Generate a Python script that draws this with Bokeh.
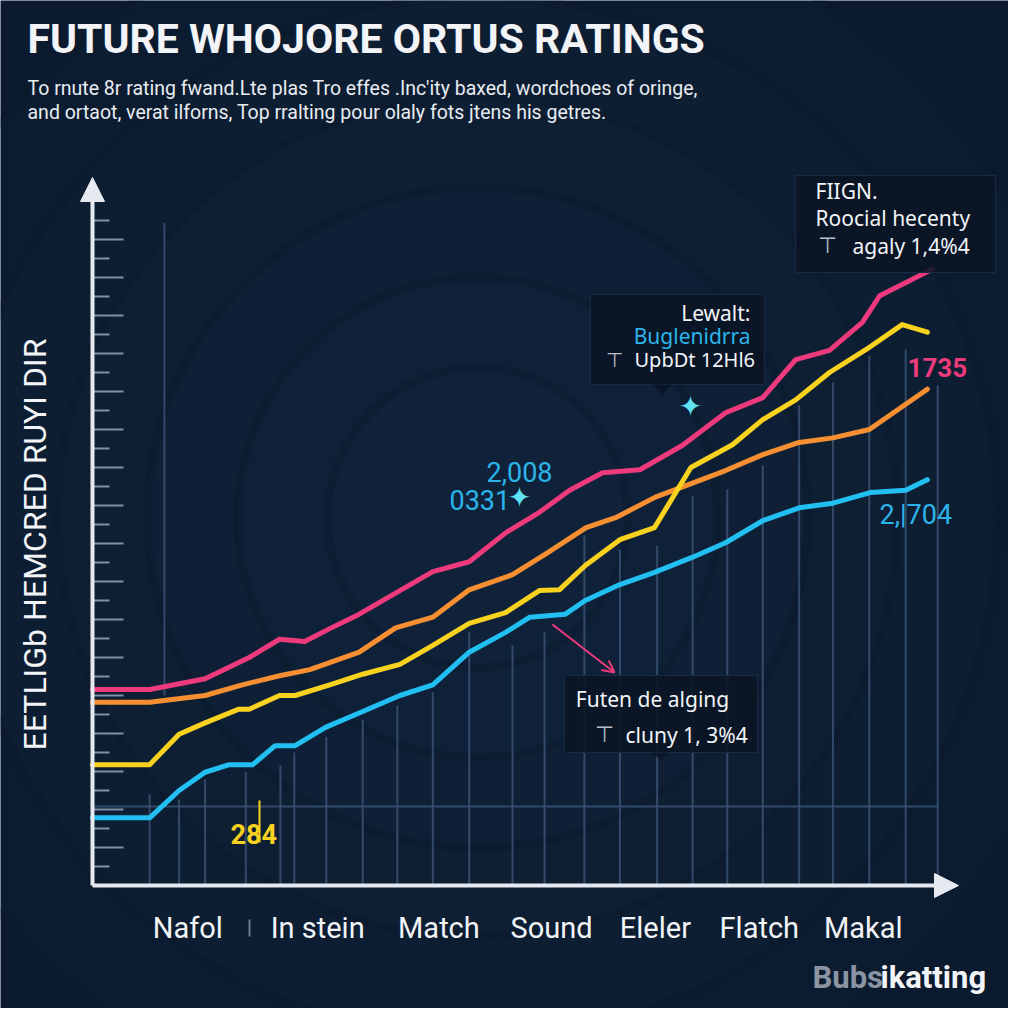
import math
from bokeh.plotting import figure
from bokeh.models import Range1d, FixedTicker, Arrow, NormalHead, OpenHead
from bokeh.core.properties import value
from bokeh.embed import file_html
from bokeh.resources import INLINE

# ---------------- data ----------------
categories = ["Nafol", "In stein", "Match", "Sound", "Eleler", "Flatch", "Makal"]
category_pos = [11, 26, 40, 53, 65, 77, 89]

pink_x = [0, 6.6, 13.0, 18.1, 21.6, 24.5, 27.4, 30.8, 35.5, 39.3, 43.5, 47.7, 51.6, 55.1, 58.9, 63.2, 68.1, 73.1, 77.4, 81.2, 85.1, 88.9, 90.9, 97.0]
pink_y = [25.8, 25.8, 27.2, 30.0, 32.4, 32.1, 33.8, 35.7, 38.8, 41.3, 42.6, 46.4, 49.1, 52.0, 54.3, 54.7, 57.9, 62.2, 64.2, 69.2, 70.4, 74.1, 77.6, 81.1]

orange_x = [0, 6.6, 13.0, 17.3, 21.6, 25.1, 30.8, 35.0, 39.3, 43.5, 48.5, 52.3, 57.0, 60.4, 65.0, 73.1, 77.4, 81.6, 85.5, 89.7, 96.4]
orange_y = [24.1, 24.1, 25.0, 26.4, 27.6, 28.4, 30.7, 33.9, 35.3, 38.9, 40.9, 43.6, 47.1, 48.4, 51.1, 54.6, 56.7, 58.3, 58.9, 60.0, 65.3]

yellow_x = [0, 6.6, 10.0, 13.0, 16.9, 18.1, 21.6, 23.4, 27.4, 31.2, 35.5, 39.3, 43.5, 47.7, 51.6, 53.9, 56.9, 60.9, 64.9, 69.1, 73.9, 77.4, 81.2, 85.1, 89.3, 93.5, 96.4]
yellow_y = [15.9, 15.9, 19.9, 21.4, 23.2, 23.2, 25.0, 25.0, 26.4, 27.8, 29.1, 31.6, 34.5, 35.9, 38.8, 38.9, 42.1, 45.5, 47.1, 55.0, 58.0, 61.3, 63.9, 67.5, 70.5, 73.8, 72.8]

blue_x = [0, 6.6, 10.0, 13.0, 15.8, 18.5, 21.1, 23.4, 26.9, 31.2, 35.5, 39.3, 43.5, 47.7, 50.5, 54.6, 56.9, 60.9, 64.9, 69.3, 73.1, 77.4, 81.6, 85.5, 89.8, 93.9, 96.4]
blue_y = [8.9, 8.9, 12.5, 14.9, 15.9, 15.9, 18.4, 18.4, 20.8, 22.9, 25.0, 26.4, 30.7, 33.3, 35.3, 35.7, 37.5, 39.6, 41.2, 43.2, 45.1, 48.0, 49.7, 50.3, 51.7, 52.0, 53.4]

# decorative drop lines (x, bottom, top)
drop_x = [6.6, 8.3, 10.0, 13.0, 17.7, 21.7, 23.3, 27.0, 31.2, 35.2, 39.3, 43.5, 48.5, 52.2, 56.8, 60.9, 65.2, 69.3, 73.3, 77.4, 81.6, 85.5, 89.7, 93.9, 97.6]
drop_y0 = [0, 25.0, 0, 0, 0, 0, 0, 0, 0, 0, 0, 0, 0, 0, 0, 0, 0, 0, 0, 0, 0, 0, 0, 0, 0]
drop_y1 = [12.0, 87.2, 11.3, 13.9, 14.9, 15.8, 17.5, 19.5, 21.8, 23.7, 25.4, 33.3, 31.6, 33.3, 46.1, 44.2, 44.7, 51.3, 52.1, 55.3, 63.2, 66.2, 69.7, 70.5, 65.8]
hline_y = 10.4

y_major = [5, 10, 15, 20, 25, 30, 35, 40, 45, 50, 55, 60, 65, 70, 75, 80, 85]
y_minor = [2.5, 7.5, 12.5, 17.5, 22.5, 27.5, 32.5, 37.5, 42.5, 47.5, 52.5, 57.5, 62.5, 67.5, 72.5, 77.5, 82.5, 87.5]

# ---------------- styling helpers ----------------
PXX = 8.66   # pixels per x unit
PXY = 7.6    # pixels per y unit
def X(px):
    return (px - 100) / PXX
def Y(py):
    return (893 - py) / PXY

BG = "#0b1a2e"
WHITE = "#f2f4f7"
PINK = "#ec3a7c"
ORANGE = "#f68f31"
YELLOW = "#f8d21f"
BLUE = "#22bff2"
LBLUE = "#2cb4ea"
COND = "Roboto"
SANS = "Noto Sans"

p = figure(width=1008, height=1008, output_backend="svg", toolbar_location=None,
           x_range=Range1d(X(8), X(1016)), y_range=Range1d(Y(1016), Y(8)),
           x_axis_location=None, min_border=0)
p.title.visible = False
p.grid.visible = False
p.outline_line_color = None
p.background_fill_color = BG
p.border_fill_color = BG

# soft concentric glow
for r in [620, 520, 420, 330, 240, 150]:
    p.circle(x=[X(485)], y=[Y(525)], radius=r, radius_units="screen",
             fill_color="#17345a", fill_alpha=0.07, line_color="#0a1627", line_alpha=0.3, line_width=8)

# y axis (ticks only, placed at x = 0)
yax = p.yaxis[0]
yax.fixed_location = 0
yax.ticker = FixedTicker(ticks=y_major, minor_ticks=y_minor)
yax.major_label_overrides = {t: "" for t in y_major}
yax.major_label_standoff = 0
yax.axis_line_color = None
yax.major_tick_in = 31
yax.major_tick_out = 0
yax.minor_tick_in = 17
yax.minor_tick_out = 0
yax.major_tick_line_color = "#7f90a8"
yax.minor_tick_line_color = "#7f90a8"
yax.major_tick_line_width = 2
yax.minor_tick_line_width = 2

# grid-like decorations
p.segment(x0=drop_x, y0=drop_y0, x1=drop_x, y1=drop_y1, line_color="#3a5273", line_width=2, line_alpha=0.85)
p.segment(x0=[0], y0=[hline_y], x1=[97.6], y1=[hline_y], line_color="#3a5273", line_width=2, line_alpha=0.85)

# axis arrows
p.add_layout(Arrow(end=NormalHead(size=24, fill_color="#e6e9ef", line_color="#e6e9ef"),
                   x_start=0, y_start=0, x_end=0, y_end=Y(185), line_color="#e6e9ef", line_width=4))
p.add_layout(Arrow(end=NormalHead(size=24, fill_color="#e6e9ef", line_color="#e6e9ef"),
                   x_start=0, y_start=0, x_end=X(966), y_end=0, line_color="#e6e9ef", line_width=4))

# series
for xs, ys, c in [(pink_x, pink_y, PINK), (orange_x, orange_y, ORANGE),
                  (yellow_x, yellow_y, YELLOW), (blue_x, blue_y, BLUE)]:
    p.line(xs, ys, line_color=c, line_width=5, line_join="round", line_cap="round")

def txt(px, py, s, size, color, font=COND, style="normal", align="left", angle=0):
    # py is the vertical centre of the capitals
    p.text(x=[X(px)], y=[Y(py)], text=[s], text_font=value(font), text_font_size=value(size),
           text_font_style=style, text_color=color, text_align=align, text_baseline="middle", angle=angle)

# title & subtitle
txt(35, 46, "FUTURE WHOJORE ORTUS RATINGS", "41px", WHITE, style="bold")
txt(35, 96, "To rnute 8r rating fwand.Lte plas Tro effes .Inc'ity baxed, wordchoes of oringe,", "19.5px", "#e8ecf1")
txt(35, 120, "and ortaot, verat ilforns, Top rralting pour olaly fots jtens his getres.", "19.5px", "#e8ecf1")

# y axis title
txt(42, 552, "EETLIGb HEMCRED RUYI DIR", "32px", WHITE, align="center", angle=math.pi / 2)

# x category names
p.text(x=category_pos, y=[Y(935.5)] * len(categories), text=categories, text_font=value(COND),
       text_font_size=value("29px"), text_color=WHITE, text_align="center", text_baseline="middle")
p.segment(x0=[X(257)], y0=[Y(927)], x1=[X(257)], y1=[Y(944)], line_color="#6f7a8a", line_width=2)

# callout boxes
def box(l, r, t, b):
    p.quad(left=[X(l)], right=[X(r)], top=[Y(t)], bottom=[Y(b)], fill_color="#0a1524",
           fill_alpha=0.88, line_color="#1a2a40", line_width=1)

box(598, 772, 302, 392)
p.patch([X(660), X(680), X(670)], [Y(392), Y(392), Y(402)], fill_color="#0a1524", fill_alpha=0.88, line_color=None)
txt(758, 320, "Lewalt:", "21px", WHITE, font=SANS, align="right")
txt(758, 343, "Buglenidrra", "21px", LBLUE, font=SANS, align="right")
txt(642, 367, "UpbDt 12Hl6", "20px", WHITE, font=SANS)
txt(622, 367, "\u22a4", "20px", "#b7bec8", font="DejaVu Sans", align="center")

box(803, 1003, 183, 280)
txt(823, 198, "FIIGN.", "21px", WHITE, font=SANS)
txt(823, 225, "Roocial hecenty", "21px", WHITE, font=SANS)
txt(835, 253, "\u22a4", "22px", "#b7bec8", font="DejaVu Sans", align="center")
txt(860, 253, "agaly 1,4%4", "21px", WHITE, font=SANS)

box(572, 765, 683, 760)
p.patch([X(660), X(676), X(668)], [Y(760), Y(760), Y(768)], fill_color="#0a1524", fill_alpha=0.88, line_color=None)
txt(660, 706, "Futen de alging", "21px", WHITE, font=SANS, align="center")
txt(612, 742, "\u22a4", "22px", "#b7bec8", font="DejaVu Sans", align="center")
txt(633, 742, "cluny 1, 3%4", "21px", WHITE, font=SANS)

# value labels
txt(560, 479, "2,008", "27px", LBLUE, align="right")
txt(457, 507, "0331", "27px", LBLUE)
txt(527, 505, "\u2726", "28px", "#5fe3f2", font="DejaVu Sans", align="center")
txt(698, 414, "\u2726", "28px", "#5fe3f2", font="DejaVu Sans", align="center")
txt(915, 375, "1735", "26px", PINK, style="bold")
txt(887, 522, "2,|704", "27px", LBLUE)
txt(238, 841, "284", "27px", YELLOW, style="bold")
p.segment(x0=[X(267)], y0=[Y(808)], x1=[X(267)], y1=[Y(850)], line_color=YELLOW, line_width=2)

p.add_layout(Arrow(end=OpenHead(size=12, line_color=PINK, line_width=2),
                   x_start=X(560), y_start=Y(632), x_end=X(622), y_end=Y(680), line_color=PINK, line_width=2))

# watermark
txt(820, 985, "Bubs", "31px", "#8a94a2", style="bold")
txt(888, 985, "ikatting", "31px", WHITE, style="bold")

open("out.html", "w").write(file_html(p, INLINE))
